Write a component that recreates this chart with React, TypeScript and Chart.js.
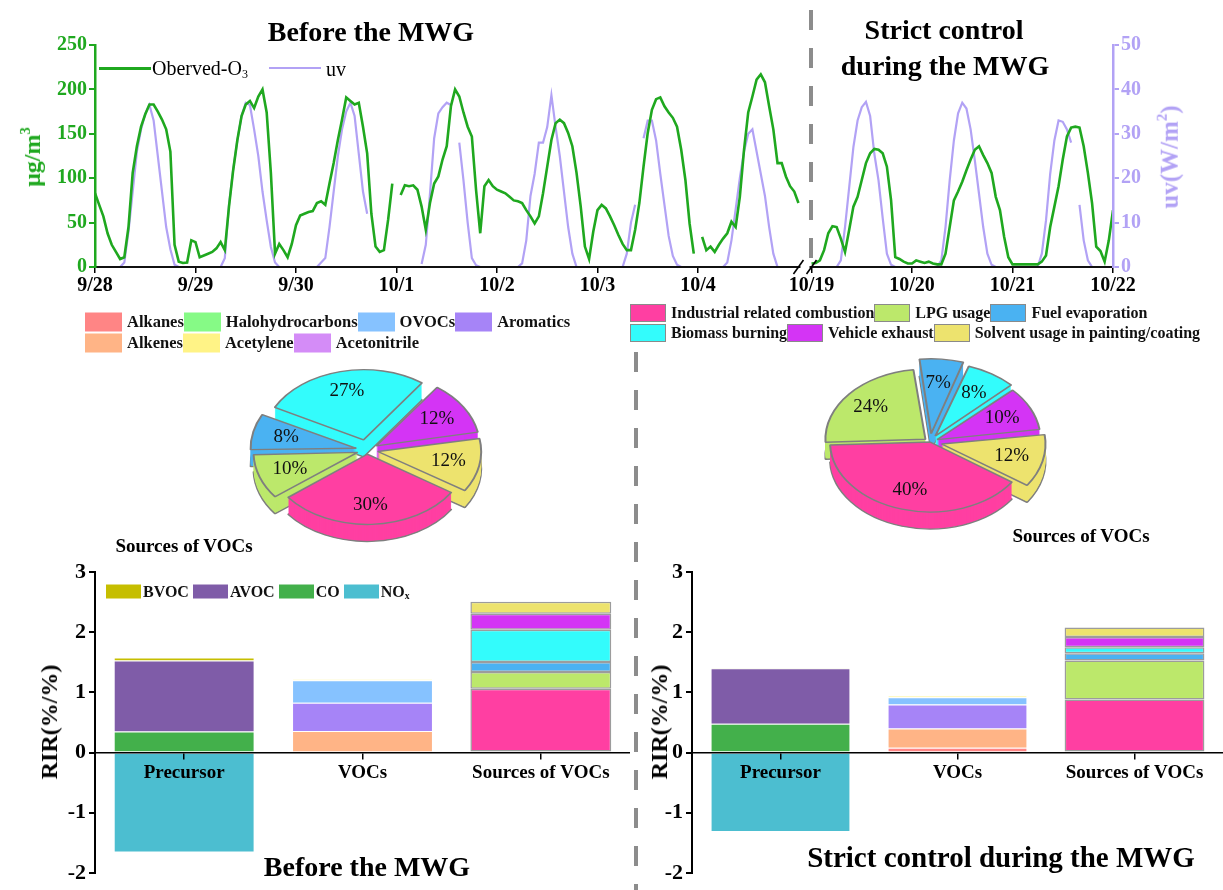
import React, { useEffect, useRef } from "react";
import { Chart, registerables, ArcElement } from "chart.js";

Chart.register(...registerables);

const SERIF = '"Liberation Serif", "Times New Roman", Times, serif';
Chart.defaults.font.family = SERIF;

const GREEN = "#1FA81F";
const LAVENDER = "#B2A2F5";

// ---------- Top time series ----------
const DATE_LABELS = ["9/28", "9/29", "9/30", "10/1", "10/2", "10/3", "10/4", "10/19", "10/20", "10/21", "10/22"];
const DATE_TICKS = [0, 1, 2, 3, 4, 5, 6, 7.13, 8.13, 9.13, 10.13];
const BREAK_START = 7;
const BREAK_END = 7.13;

// hourly O3 (ug/m3), 00:00..23:00
const O3_0928 = [83, 70, 57, 38, 25, 17, 9, 11, 45, 106, 136, 158, 172, 183, 183, 175, 166, 155, 130, 25, 6, 4.5, 5, 30];
const O3_0929 = [28, 11, 13, 15, 17, 21, 28, 19, 68, 109, 143, 170, 183, 187, 179, 192, 200, 174, 106, 15, 26, 19, 11, 26];
const O3_0930 = [47, 58, 60, 62, 63, 72, 74, 70, 94, 117, 143, 166, 191, 187, 183, 185, 158, 128, 60, 23, 17, 19, 53, 94];
const O3_1001 = [null, 81, 92, 91, 92, 87, 68, 42, 72, 94, 102, 121, 136, 181, 200, 192, 174, 158, 147, 87, 38, 91, 98, 91];
const O3_1002 = [87, 85, 83, 79, 75, 74, 72, 64, 57, 49, 57, 83, 113, 143, 162, 166, 162, 151, 136, 106, 68, 23, 9, 40];
const O3_1003 = [64, 70, 66, 57, 47, 36, 26, 19, 19, 42, 72, 113, 151, 177, 189, 191, 181, 174, 168, 158, 132, 98, 49, 15];
const O3_1004 = [null, 34, 19, 23, 17, 25, 32, 38, 51, 45, 79, 132, 174, 192, 211, 217, 208, 181, 155, 117, 117, 102, 91, 85];
const O3_END_A = 72;
const O3_1019 = [4, 4.5, 7.5, 19, 38, 46, 45, 32, 17, 42, 68, 79, 98, 117, 128, 133, 132, 128, 113, 75, 11, 9, 6, 4];
const O3_1020 = [4, 7.5, 6, 4.5, 6, 4, 3, 3, 15, 45, 75, 85, 96, 109, 121, 132, 136, 126, 117, 106, 79, 64, 34, 11];
const O3_1021 = [3, 3, 3, 3, 3, 3, 3, 6, 13, 45, 68, 91, 121, 147, 157, 158, 157, 136, 106, 72, 23, 18, 6, 30];
const O3_END_B = 64;

// hourly uv (W/m2)
const UV_0928 = [0, 0, 0, 0, 0, 0, 0, 1, 8, 17, 26, 31, 34.5, 36.5, 33, 25, 17, 9, 4, 0.5, 0, 0, 0, 0];
const UV_0929 = [0, 0, 0, 0, 0, 0, 0, 2, 14, 22, 28.5, 34, 37, 36.5, 31, 25, 17, 10.5, 4.5, 1, 0, 0, 0, 0];
const UV_0930 = [0, 0, 0, 0, 0, 0, 1, 2, 9, 17, 25, 31, 35, 37, 34, 25.5, 17, 12, null, null, null, null, null, null];
const UV_1001 = [null, null, null, null, null, null, 0.7, 5, 16.5, 29, 34.6, 36, 37, 36.5, null, 28, 19.5, 10, 2, 0.4, 0, 0, 0, 0];
const UV_1002 = [0, 0, 0, 0, 0, 0, 0.8, 6, 16, 21, 28, 28, 31.5, 38.7, 31.5, 25, 17, 9, 3, 0, 0, 0, 0, 0];
const UV_1003 = [0, 0, 0, 0, 0, 0, 0, 3, 10, 14, null, 29, 33, 33, 28.5, 21, 14, 7, 2.5, 0.5, 0, 0, 0, 0];
const UV_1004 = [0, 0, 0, 0, 0, 0, 0, 1, 6, 13, 20, 26, 30, 31, 26, 21, 16, 9, 3, 0, 0, 0, 0, 0];
const UV_END_A = 0;
const UV_1019 = [0, 0, 0, 0, 0, 0, 0, 1.5, 9, 18, 27, 33, 36, 37.2, 34, 25.5, 19.5, 11, 3, 0.5, 0, 0, 0, 0];
const UV_1020 = [0, 0, 0, 0, 0, 0, 0, 1.5, 9, 19.5, 28.5, 34.6, 37, 35.7, 31, 24, 16.5, 9, 3, 0.5, 0, 0, 0, 0];
const UV_1021 = [0, 0, 0, 0, 0, 0, 0, 3, 10.5, 21, 28.5, 33, 32.7, 31, 28, null, 14, 6, 1.5, 0, 0, 0, 0, 0];
const UV_END_B = 0;

const O3_DAYS = [O3_0928, O3_0929, O3_0930, O3_1001, O3_1002, O3_1003, O3_1004, O3_1019, O3_1020, O3_1021];
const UV_DAYS = [UV_0928, UV_0929, UV_0930, UV_1001, UV_1002, UV_1003, UV_1004, UV_1019, UV_1020, UV_1021];

// ---------- Pies ----------
const SOURCE_LABELS = [
  "Industrial related combustion",
  "LPG usage",
  "Fuel evaporation",
  "Biomass burning",
  "Vehicle exhaust",
  "Solvent usage in painting/coating",
];
const SOURCE_COLORS = ["#FF3FA2", "#BCE86B", "#4AB2F2", "#33FCFC", "#D434F5", "#EDE36E"];
const PIE_BEFORE = [30, 10, 8, 27, 12, 12];
const PIE_DURING = [40, 24, 7, 8, 10, 12];
const PIE_EXPLODE_BEFORE = [24, 40, 44, 60, 44, 44];
const PIE_EXPLODE_DURING = [0, 24, 48, 40, 32, 48];

// ---------- RIR bars ----------
const BAR_CATEGORIES = ["Precursor", "VOCs", "Sources of VOCs"];
const PRECURSOR_LABELS = ["BVOC", "AVOC", "CO", "NOx"];
const PRECURSOR_COLORS = ["#C6BE00", "#7F5CA8", "#43B04B", "#4CBED0"];
const PRECURSOR_STACK = [2, 1, 0, 3];
const RIR_PRECURSOR_BEFORE = [0.05, 1.18, 0.35, -1.66];
const RIR_PRECURSOR_DURING = [0.01, 0.92, 0.48, -1.32];

const VOC_LABELS = ["Alkanes", "Halohydrocarbons", "OVOCs", "Aromatics", "Alkenes", "Acetylene", "Acetonitrile"];
const VOC_COLORS = ["#FF8585", "#86FA86", "#86C2FF", "#A684F7", "#FFB486", "#FFF386", "#D48CF7"];
const VOC_STACK = [0, 1, 4, 3, 2, 5, 6];
const RIR_VOC_BEFORE = [0.02, 0, 0.37, 0.47, 0.34, 0.02, 0];
const RIR_VOC_DURING = [0.08, 0, 0.12, 0.4, 0.32, 0.02, 0];

const RIR_SOURCE_BEFORE = [1.06, 0.28, 0.165, 0.535, 0.265, 0.2];
const RIR_SOURCE_DURING = [0.88, 0.65, 0.12, 0.1, 0.17, 0.16];

// ---------- helpers ----------
function dayStart(d: number) {
  return d < 7 ? d : d + (BREAK_END - BREAK_START);
}

function buildSeries(days: (number | null)[][], endA: number, endB: number) {
  const pts: { x: number; y: number | null }[] = [];
  days.forEach((arr, d) => {
    arr.forEach((v, h) => pts.push({ x: dayStart(d) + h / 24, y: v }));
    if (d === 6) {
      pts.push({ x: BREAK_START, y: endA });
      pts.push({ x: (BREAK_START + BREAK_END) / 2, y: null });
    }
  });
  pts.push({ x: dayStart(days.length), y: endB });
  return pts;
}

const axisBreakPlugin = {
  id: "axisBreak",
  afterDraw(chart: any) {
    const x = chart.scales.x;
    const y = chart.chartArea.bottom;
    const ctx = chart.ctx;
    const a = x.getPixelForValue(BREAK_START);
    const b = x.getPixelForValue(BREAK_END);
    ctx.save();
    ctx.fillStyle = "#fff";
    ctx.fillRect(a + 2, y - 3, b - a - 4, 6);
    ctx.strokeStyle = "#000";
    ctx.lineWidth = 1.6;
    [a, b].forEach((px: number) => {
      ctx.beginPath();
      ctx.moveTo(px - 5, y + 7);
      ctx.lineTo(px + 5, y - 7);
      ctx.stroke();
    });
    ctx.restore();
  },
};

const pie3dPlugin = {
  id: "pie3d",
  beforeDatasetsDraw(chart: any, _args: any, opts: any) {
    const arcs = chart.getDatasetMeta(0).data as any[];
    if (!arcs.length) return;
    const cx = arcs[0].x;
    const cy = arcs[0].y;
    const k = opts.squash;
    const depth = opts.depth;
    const ctx = chart.ctx;
    ctx.save();
    ctx.translate(cx, cy);
    ctx.scale(1, k);
    ctx.translate(-cx, -cy);
    for (let t = depth; t >= 1; t--) {
      ctx.save();
      ctx.translate(0, t / k);
      arcs.forEach((arc) => {
        const ghost = Object.create(arc);
        ghost.options = t === depth ? arc.options : { ...arc.options, borderWidth: 0 };
        ArcElement.prototype.draw.call(ghost, ctx);
      });
      ctx.restore();
    }
  },
  afterDatasetsDraw(chart: any, _args: any, opts: any) {
    const ctx = chart.ctx;
    ctx.restore();
    const arcs = chart.getDatasetMeta(0).data as any[];
    if (!arcs.length) return;
    const cx = arcs[0].x;
    const cy = arcs[0].y;
    const k = opts.squash;
    const values = chart.data.datasets[0].data;
    ctx.save();
    ctx.font = `19px ${SERIF}`;
    ctx.fillStyle = "#111";
    ctx.textAlign = "center";
    ctx.textBaseline = "middle";
    arcs.forEach((arc, i) => {
      const mid = (arc.startAngle + arc.endAngle) / 2;
      const r = arc.outerRadius * opts.labelRadius + (arc.options.offset || 0) / 4;
      ctx.fillText(`${values[i]}%`, cx + Math.cos(mid) * r, cy + Math.sin(mid) * r * k);
    });
    ctx.restore();
  },
};

function makeTopChart(canvas: HTMLCanvasElement) {
  const o3 = buildSeries(O3_DAYS, O3_END_A, O3_END_B);
  const uv = buildSeries(UV_DAYS, UV_END_A, UV_END_B);
  const tickFont = { family: SERIF, size: 20, weight: "bold" as const };
  return new Chart(canvas, {
    type: "line",
    data: {
      datasets: [
        { label: "Oberved-O3", data: o3 as any, borderColor: GREEN, borderWidth: 2.6, pointRadius: 0, yAxisID: "y", spanGaps: false, tension: 0 },
        { label: "uv", data: uv as any, borderColor: LAVENDER, borderWidth: 2.2, pointRadius: 0, yAxisID: "y1", spanGaps: false, tension: 0 },
      ],
    },
    options: {
      animation: false,
      responsive: false,
      layout: { padding: { top: 45, left: 0, right: 0, bottom: 0 } },
      plugins: { legend: { display: false }, tooltip: { enabled: false } },
      scales: {
        x: {
          type: "linear",
          min: 0,
          max: DATE_TICKS[DATE_TICKS.length - 1],
          afterBuildTicks: (s: any) => {
            s.ticks = DATE_TICKS.map((v) => ({ value: v }));
          },
          afterFit: (s: any) => {
            s.height = 33;
          },
          ticks: {
            autoSkip: false,
            maxRotation: 0,
            padding: 1,
            color: "#000",
            font: tickFont,
            callback: (v: any) => {
              const i = DATE_TICKS.indexOf(Number(v));
              return i >= 0 ? DATE_LABELS[i] : "";
            },
          },
          grid: { drawOnChartArea: false, tickLength: 6, color: "#000", lineWidth: 1.5, z: 1 },
          border: { color: "#111", width: 2, z: 1 },
        },
        y: {
          position: "left",
          min: 0,
          max: 250,
          afterFit: (s: any) => {
            s.width = 95;
          },
          ticks: { stepSize: 50, color: GREEN, font: tickFont, padding: 2 },
          grid: { drawOnChartArea: false, tickLength: 6, color: GREEN, lineWidth: 2 },
          border: { color: GREEN, width: 2.5, z: 1 },
        },
        y1: {
          position: "right",
          min: 0,
          max: 50,
          afterFit: (s: any) => {
            s.width = 110;
          },
          ticks: { stepSize: 10, color: LAVENDER, font: tickFont, padding: 2 },
          grid: { drawOnChartArea: false, tickLength: 6, color: LAVENDER, lineWidth: 2 },
          border: { color: LAVENDER, width: 2.5, z: 1 },
        },
      },
    } as any,
    plugins: [axisBreakPlugin],
  });
}

function makePie(canvas: HTMLCanvasElement, values: number[], explode: number[], rotation: number) {
  return new Chart(canvas, {
    type: "pie",
    data: {
      labels: SOURCE_LABELS,
      datasets: [
        {
          data: values,
          backgroundColor: SOURCE_COLORS,
          borderColor: "#7f7f7f",
          borderWidth: 2,
          offset: explode,
          clip: false,
        } as any,
      ],
    },
    options: {
      animation: false,
      responsive: false,
      rotation,
      radius: 100,
      layout: { padding: 0 },
      plugins: {
        legend: { display: false },
        tooltip: { enabled: false },
        pie3d: { squash: 0.7, depth: 17, labelRadius: 0.72 },
      },
    } as any,
    plugins: [pie3dPlugin],
  });
}

function makeBars(canvas: HTMLCanvasElement, pre: number[], voc: number[], src: number[], yWidth: number) {
  const datasets: any[] = [];
  PRECURSOR_STACK.forEach((i) =>
    datasets.push({
      label: PRECURSOR_LABELS[i],
      data: [pre[i], null, null],
      backgroundColor: PRECURSOR_COLORS[i],
      borderColor: "rgba(255,255,255,0.55)",
      borderWidth: 1,
      stack: "s",
    })
  );
  VOC_STACK.forEach((i) =>
    datasets.push({
      label: VOC_LABELS[i],
      data: [null, voc[i], null],
      backgroundColor: VOC_COLORS[i],
      borderColor: "rgba(255,255,255,0.55)",
      borderWidth: 1,
      stack: "s",
    })
  );
  SOURCE_LABELS.forEach((label, i) =>
    datasets.push({
      label,
      data: [null, null, src[i]],
      backgroundColor: SOURCE_COLORS[i],
      borderColor: "#9c9c9c",
      borderWidth: 1.5,
      borderSkipped: false,
      stack: "s",
    })
  );
  return new Chart(canvas, {
    type: "bar",
    data: { labels: BAR_CATEGORIES, datasets },
    options: {
      animation: false,
      responsive: false,
      layout: { padding: { top: 22, bottom: 17, left: 0, right: 0 } },
      datasets: { bar: { categoryPercentage: 1, barPercentage: 0.79 } },
      plugins: { legend: { display: false }, tooltip: { enabled: false } },
      scales: {
        x: {
          stacked: true,
          position: { y: 0 },
          offset: true,
          ticks: { color: "#000", font: { family: SERIF, size: 19, weight: "bold" }, padding: 3, z: 2 },
          grid: { drawOnChartArea: false, offset: false, tickLength: 6, color: "#000", lineWidth: 1.5, z: 1 },
          border: { color: "#000", width: 1.5, z: 1 },
        },
        y: {
          stacked: true,
          min: -2,
          max: 3,
          afterFit: (s: any) => {
            s.width = yWidth;
          },
          ticks: { stepSize: 1, color: "#000", font: { family: SERIF, size: 22, weight: "bold" }, padding: 3 },
          grid: { drawOnChartArea: false, tickLength: 6, color: "#000", lineWidth: 2 },
          border: { color: "#000", width: 2, z: 1 },
        },
      },
    } as any,
  });
}

// ---------- HTML helpers ----------
function Txt(p: {
  x: number;
  y: number;
  size: number;
  bold?: boolean;
  color?: string;
  rotate?: number;
  left?: boolean;
  children: React.ReactNode;
}) {
  const tx = p.left ? "0" : "-50%";
  return (
    <div
      style={{
        position: "absolute",
        left: p.x,
        top: p.y,
        transform: `translate(${tx}, -50%)${p.rotate ? ` rotate(${p.rotate}deg)` : ""}`,
        fontSize: p.size,
        fontWeight: p.bold ? 700 : 400,
        color: p.color ?? "#000",
        whiteSpace: "nowrap",
        lineHeight: 1,
        fontFamily: SERIF,
      }}
    >
      {p.children}
    </div>
  );
}

function renderLabel(label: string) {
  if (label === "NOx") {
    return (
      <>
        NO<sub style={{ fontSize: "0.6em", verticalAlign: "-0.25em" }}>x</sub>
      </>
    );
  }
  return label;
}

function LegendRow(p: {
  x: number;
  y: number;
  labels: string[];
  colors: string[];
  boxW: number;
  boxH: number;
  size: number;
  border?: string;
  gap: number;
  after: number;
}) {
  return (
    <div
      style={{
        position: "absolute",
        left: p.x,
        top: p.y,
        transform: "translateY(-50%)",
        display: "flex",
        alignItems: "center",
        whiteSpace: "nowrap",
        fontFamily: SERIF,
        fontWeight: 700,
        fontSize: p.size,
        lineHeight: 1,
        color: "#111",
      }}
    >
      {p.labels.map((l, i) => (
        <div key={l} style={{ display: "flex", alignItems: "center" }}>
          <div
            style={{
              width: p.boxW,
              height: p.boxH,
              background: p.colors[i],
              border: p.border ?? "none",
              boxSizing: "border-box",
            }}
          />
          <span style={{ marginLeft: p.gap, marginRight: p.after }}>{renderLabel(l)}</span>
        </div>
      ))}
    </div>
  );
}

function Dashed(p: { x: number; y: number; h: number }) {
  return (
    <div
      style={{
        position: "absolute",
        left: p.x - 2,
        top: p.y,
        width: 4,
        height: p.h,
        background: "repeating-linear-gradient(to bottom, #8c8c8c 0px, #8c8c8c 20px, transparent 20px, transparent 38px)",
      }}
    />
  );
}

export default function App() {
  const topRef = useRef<HTMLCanvasElement>(null);
  const pieLRef = useRef<HTMLCanvasElement>(null);
  const pieRRef = useRef<HTMLCanvasElement>(null);
  const barLRef = useRef<HTMLCanvasElement>(null);
  const barRRef = useRef<HTMLCanvasElement>(null);

  useEffect(() => {
    const charts: Chart[] = [];
    charts.push(makeTopChart(topRef.current!));
    charts.push(makeBars(barLRef.current!, RIR_PRECURSOR_BEFORE, RIR_VOC_BEFORE, RIR_SOURCE_BEFORE, 95));
    charts.push(makeBars(barRRef.current!, RIR_PRECURSOR_DURING, RIR_VOC_DURING, RIR_SOURCE_DURING, 92));
    charts.push(makePie(pieLRef.current!, PIE_BEFORE, PIE_EXPLODE_BEFORE, 123));
    charts.push(makePie(pieRRef.current!, PIE_DURING, PIE_EXPLODE_DURING, 125));
    return () => charts.forEach((c) => c.destroy());
  }, []);

  const abs = (l: number, t: number): React.CSSProperties => ({ position: "absolute", left: l, top: t });

  return (
    <div
      style={{
        position: "absolute",
        left: 0,
        top: 0,
        width: 1223,
        height: 890,
        background: "#fff",
        overflow: "hidden",
        fontFamily: SERIF,
      }}
    >
      <canvas ref={topRef} width={1223} height={300} style={abs(0, 0)} />
      <canvas ref={barLRef} width={630} height={340} style={abs(0, 550)} />
      <canvas ref={barRRef} width={623} height={340} style={abs(600, 550)} />
      <canvas ref={pieLRef} width={300} height={300} style={abs(217, 300)} />
      <canvas ref={pieRRef} width={300} height={300} style={abs(780, 292)} />

      <Dashed x={811} y={10} h={255} />
      <Dashed x={636} y={352} h={540} />

      {/* Top titles */}
      <Txt x={371} y={32} size={28} bold>
        Before the MWG
      </Txt>
      <Txt x={944} y={30} size={28} bold>
        Strict control
      </Txt>
      <Txt x={945} y={66} size={28} bold>
        during the MWG
      </Txt>

      {/* Top legend */}
      <div style={{ position: "absolute", left: 99, top: 67, width: 52, height: 2.6, background: GREEN }} />
      <Txt x={152} y={69} size={20} left>
        Oberved-O<sub style={{ fontSize: "0.6em", verticalAlign: "-0.3em" }}>3</sub>
      </Txt>
      <div style={{ position: "absolute", left: 269, top: 67, width: 52, height: 2.2, background: LAVENDER }} />
      <Txt x={326} y={69} size={20} left>
        uv
      </Txt>

      {/* Axis titles */}
      <Txt x={31} y={157} size={24} bold color={GREEN} rotate={-90}>
        μg/m<sup style={{ fontSize: "0.6em", verticalAlign: "0.7em" }}>3</sup>
      </Txt>
      <Txt x={1168} y={157} size={25} bold color={LAVENDER} rotate={-90}>
        uv(W/m<sup style={{ fontSize: "0.6em", verticalAlign: "0.7em" }}>2</sup>)
      </Txt>
      <Txt x={49} y={722} size={24} bold rotate={-90}>
        RIR(%/%)
      </Txt>
      <Txt x={659} y={722} size={24} bold rotate={-90}>
        RIR(%/%)
      </Txt>

      {/* VOC legend */}
      <LegendRow x={85} y={322} labels={VOC_LABELS.slice(0, 4)} colors={VOC_COLORS.slice(0, 4)} boxW={37} boxH={19} size={16.5} gap={5} after={0} />
      <LegendRow x={85} y={343} labels={VOC_LABELS.slice(4)} colors={VOC_COLORS.slice(4)} boxW={37} boxH={19} size={16.5} gap={5} after={0} />

      {/* Source legend */}
      <LegendRow x={630} y={313} labels={SOURCE_LABELS.slice(0, 3)} colors={SOURCE_COLORS.slice(0, 3)} boxW={36} boxH={18} size={16} border="1.5px solid #8a8a8a" gap={5} after={0} />
      <LegendRow x={630} y={333} labels={SOURCE_LABELS.slice(3)} colors={SOURCE_COLORS.slice(3)} boxW={36} boxH={18} size={16} border="1.5px solid #8a8a8a" gap={5} after={0} />

      {/* Pie captions */}
      <Txt x={184} y={545} size={19} bold>
        Sources of VOCs
      </Txt>
      <Txt x={1081} y={535} size={19} bold>
        Sources of VOCs
      </Txt>

      {/* Bar legend */}
      <LegendRow x={106} y={592} labels={PRECURSOR_LABELS} colors={PRECURSOR_COLORS} boxW={35} boxH={14} size={16} gap={2} after={4} />

      {/* Bottom titles */}
      <Txt x={367} y={867} size={28} bold>
        Before the MWG
      </Txt>
      <Txt x={1001} y={857} size={29} bold>
        Strict control during the MWG
      </Txt>
    </div>
  );
}
